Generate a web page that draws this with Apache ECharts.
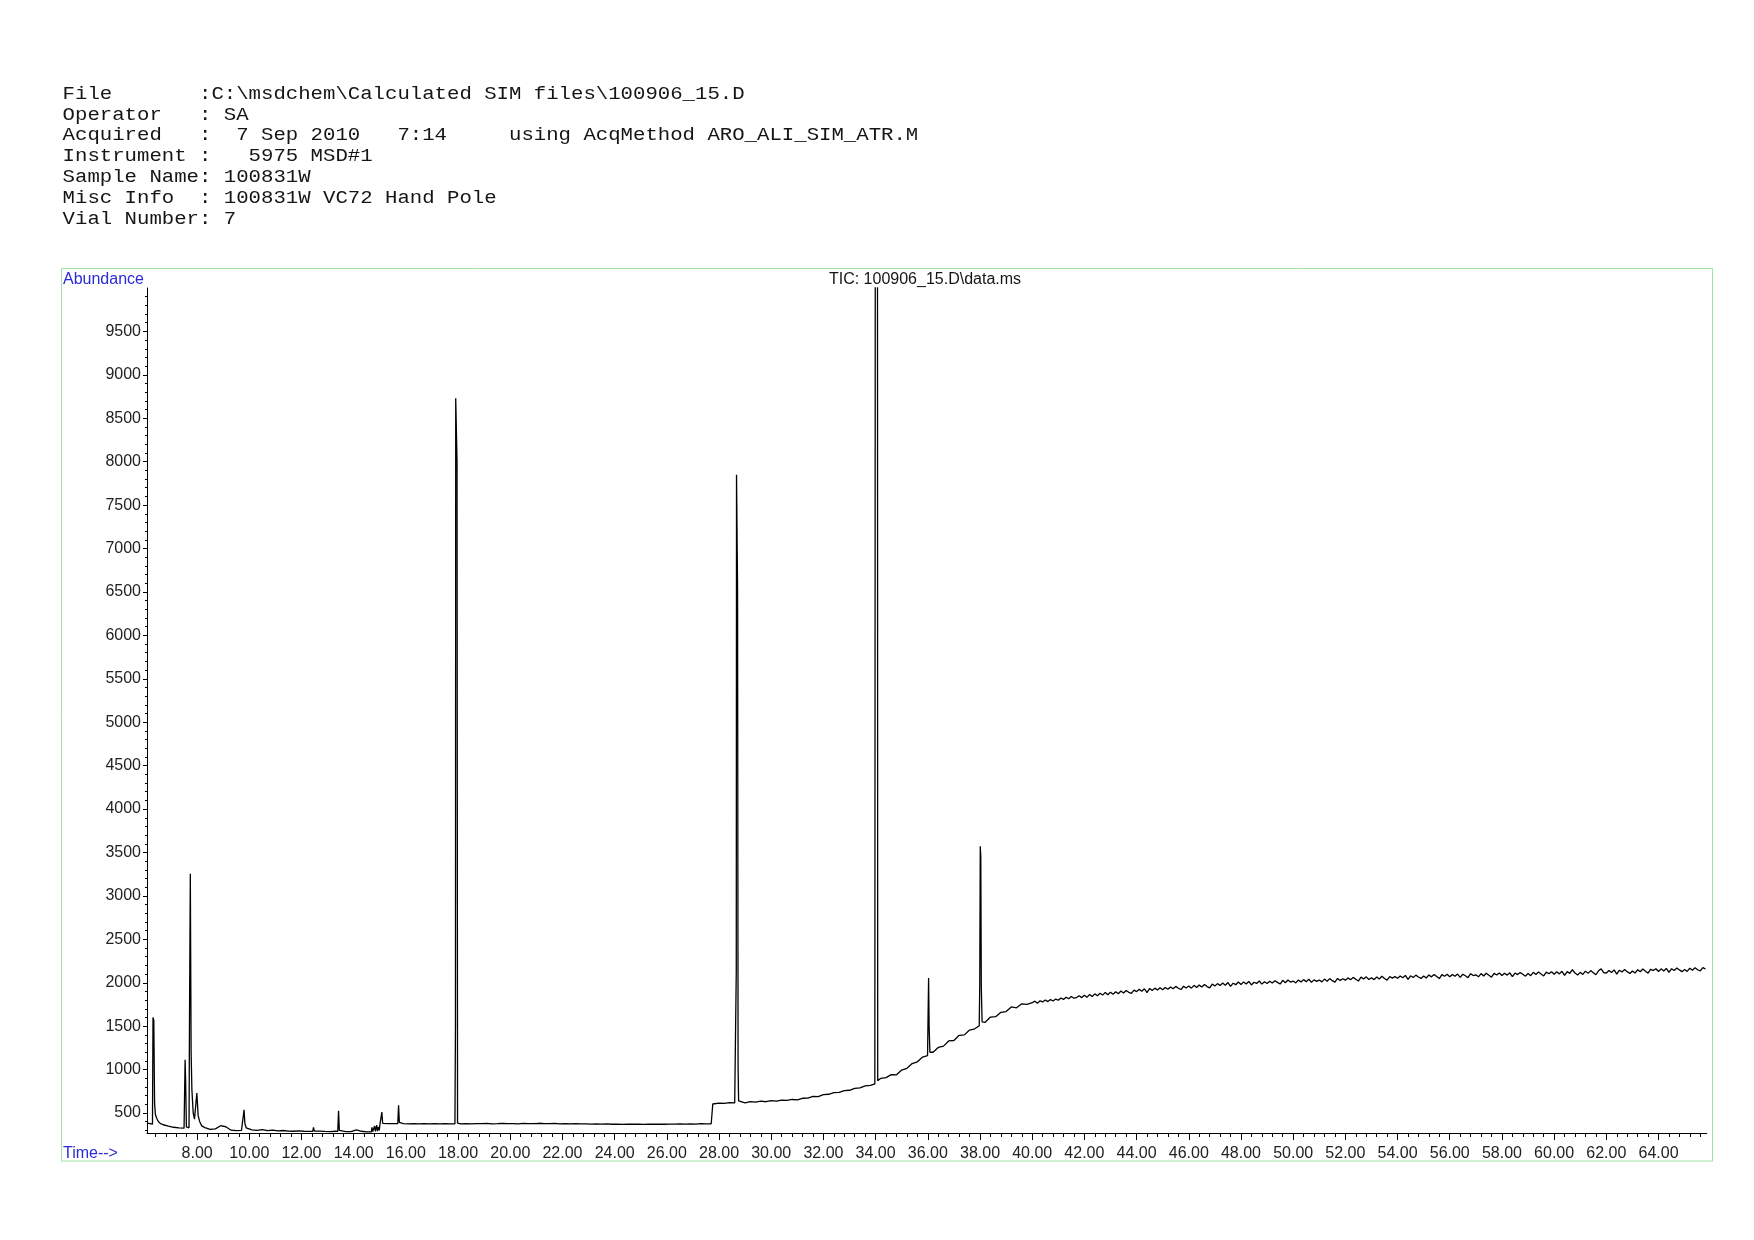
<!DOCTYPE html>
<html>
<head>
<meta charset="utf-8">
<script src="https://cdn.jsdelivr.net/npm/echarts@6/dist/echarts.min.js"></script>
<style>
html,body{margin:0;padding:0;background:#fff;}
#chart{width:1754px;height:1240px;}
</style>
</head>
<body>
<div id="chart"></div>
<script>
// ---------- header text ----------
const headerLines = [
  'File       :C:\\msdchem\\Calculated SIM files\\100906_15.D',
  'Operator   : SA',
  'Acquired   :  7 Sep 2010   7:14     using AcqMethod ARO_ALI_SIM_ATR.M',
  'Instrument :   5975 MSD#1',
  'Sample Name: 100831W',
  'Misc Info  : 100831W VC72 Hand Pole',
  'Vial Number: 7'
];
const plotTitle = 'TIC: 100906_15.D\\data.ms';
const yAxisName = 'Abundance';
const xAxisName = 'Time-->';

// ---------- axis ranges / ticks ----------
const xMin = 6.08, xMax = 65.85;
const yMin = 270, yMax = 10000;
const xMajorTicks = [8,10,12,14,16,18,20,22,24,26,28,30,32,34,36,38,40,42,44,46,48,50,52,54,56,58,60,62,64];
const yMajorTicks = [500,1000,1500,2000,2500,3000,3500,4000,4500,5000,5500,6000,6500,7000,7500,8000,8500,9000,9500];
const xMinorTicks = [];
for (let i = 0; i < 149; i++) xMinorTicks.push(Math.round((6.4 + i * 0.4) * 100) / 100);
const yMinorTicks = [];
for (let v = 300; v <= 9900; v += 100) yMinorTicks.push(v);

// ---------- baseline (regularly sampled) ----------
const seg1Start = 6.1, seg1Step = 0.2;
const seg1Values = [
  385,370,400,365,348,336,329,326,340,420,
  400,332,312,318,354,342,302,298,300,315,
  306,300,310,298,303,294,299,292,290,294,
  290,288,296,292,288,286,290,288,286,285,
  305,290,283,300,300,380,377,379,377,378,
  376,379,375,378,376,379,375,378,376,376,
  375,378,376,379,377,380,376,378,381,377,
  379,376,381,378,377,382,378,377,380,376,
  378,375,377,374,376,373,375,372,374,371,
  373,370,372,371,372,370,372,371,373,371,
  373,372,374,372,374,373,377,375,376
];
const seg2Start = 27.8, seg2Step = 0.2;
const seg2Values = [
  606,614,610,620,616,628,618,632,625,636,
  630,642,636,648,645,656,652,670,672,692,
  690,712,716,734,738,758,762,784,790,812,
  818,850,900,908,942,940,995,1015,1070,1090,
  1145,1180,1200,1255,1270,1330,1335,1395,1400,1455,
  1470,1510,1545,1605,1610,1660,1668,1722,1712,1758,
  1750
];
const seg3Start = 40.0, seg3Step = 0.1;
const seg3Values = [
  1770,1788,1765,1792,1779,1801,1783,1806,1790,1812,
  1800,1825,1808,1834,1815,1842,1822,1830,1851,1829,
  1855,1832,1866,1841,1872,1850,1880,1858,1889,1862,
  1892,1868,1897,1874,1905,1883,1911,1890,1878,1915,
  1898,1924,1902,1930,1887,1935,1910,1938,1916,1942,
  1920,1945,1926,1952,1931,1958,1937,1922,1960,1940,
  1962,1938,1970,1946,1975,1951,1980,1956,1941,1984,
  1962,1990,1968,1997,1972,2002,1958,1995,1978,2008,
  1981,2010,1986,2015,1975,2006,1992,2020,1984,2012,
  1992,2018,1998,2024,2004,1985,2028,2000,2031,2008,
  2020,1998,2032,2009,2036,2012,2040,2005,2033,2016,
  2031,2010,2042,2018,2048,2024,2008,2050,2027,2046,
  2030,2056,2034,2062,2040,2020,2065,2043,2068,2037,
  2058,2036,2066,2044,2075,2050,2030,2072,2053,2070,
  2052,2078,2057,2085,2040,2080,2061,2088,2066,2050,
  2078,2055,2090,2068,2095,2072,2048,2094,2075,2098,
  2070,2096,2074,2100,2062,2098,2080,2058,2104,2083,
  2092,2068,2106,2078,2110,2086,2064,2108,2089,2112,
  2084,2110,2088,2115,2070,2112,2094,2118,2098,2076,
  2106,2082,2120,2096,2124,2100,2078,2122,2104,2128,
  2098,2126,2102,2132,2085,2128,2108,2150,2112,2090,
  2120,2096,2134,2108,2140,2115,2092,2138,2160,2118,
  2112,2142,2118,2148,2100,2145,2124,2152,2128,2106,
  2136,2112,2150,2126,2158,2132,2110,2156,2140,2162,
  2130,2160,2135,2166,2120,2162,2142,2170,2148,2128,
  2154,2130,2168,2145,2172,2150,2136,2175,2158
];

// ---------- peaks / steps: [time, abundance] ----------
const peak633 = [[6.29,372],[6.31,1600],[6.34,1570],[6.37,620],[6.40,485],[6.45,440],[6.52,400],[6.60,378]];
const peak754 = [[7.52,326],[7.54,1114],[7.56,883],[7.59,340],[7.63,330]];
const peak774 = [[7.69,330],[7.71,1670],[7.74,3256],[7.77,1209],[7.80,768],[7.85,503],[7.90,430],[7.94,410]];
const peak799 = [[7.97,410],[7.99,730],[8.01,710],[8.04,470],[8.10,400],[8.18,352],[8.24,338]];
const peak980 = [[9.77,298],[9.80,538],[9.83,380],[9.88,330],[9.95,310]];
const peak1246 = [[12.43,290],[12.46,334],[12.49,292]];
const peak1342 = [[13.39,289],[13.42,527],[13.45,300],[13.49,290]];
const noise1480 = [[14.68,284],[14.70,335],[14.73,286],[14.80,350],[14.83,288],[14.88,362],[14.91,292],[14.95,340],[14.98,300],[15.01,378]];
const peak1508 = [[15.04,378],[15.08,511],[15.11,382],[15.15,378]];
const peak1572 = [[15.69,377],[15.72,588],[15.75,392],[15.79,380]];
const peak1792 = [[17.88,376],[17.90,1500],[17.91,8730],[17.96,8000],[17.98,385],[18.02,378]];
const step2775 = [[27.74,376],[27.76,604]];
const peak2869 = [[28.64,622],[28.66,2120],[28.67,7850],[28.71,6540],[28.73,1030],[28.75,640],[28.78,625]];
const peak3403 = [[33.97,835],[33.99,12500],[34.07,12500],[34.08,873]];
const peak3603 = [[35.99,1160],[36.01,1612],[36.03,2055],[36.05,1497],[36.08,1200]];
const peak3801 = [[37.97,1505],[37.99,1960],[38.01,3572],[38.03,3450],[38.05,1950],[38.08,1550]];
const peakShapes = [peak633,peak754,peak774,peak799,peak980,peak1246,peak1342,noise1480,peak1508,peak1572,peak1792,step2775,peak2869,peak3403,peak3603,peak3801];

// ---------- build series data ----------
function segPoints(start, step, vals) {
  return vals.map((v, i) => [Math.round((start + i * step) * 1000) / 1000, v]);
}
const windows = peakShapes.map(p => [p[0][0] - 0.0015, p[p.length - 1][0] + 0.0015]);
let basePts = [].concat(
  segPoints(seg1Start, seg1Step, seg1Values),
  segPoints(seg2Start, seg2Step, seg2Values),
  segPoints(seg3Start, seg3Step, seg3Values)
).filter(([t]) => !windows.some(([a, b]) => t >= a && t <= b));
const ticData = basePts.concat(...peakShapes).sort((a, b) => a[0] - b[0]);

// ---------- chart ----------
const chart = echarts.init(document.getElementById('chart'), null, {renderer: 'canvas'});
const labelFont = '"Liberation Sans", Arial, sans-serif';
const blue = '#2a2ad6';

const headerGraphics = headerLines.map((line, i) => ({
  type: 'text',
  x: 62.6,
  y: 94 + i * 20.85,
  scaleX: 1.148,
  style: {
    text: line,
    font: '18px "Liberation Mono", monospace',
    fill: '#151515',
    textAlign: 'left',
    textVerticalAlign: 'middle'
  }
}));

chart.setOption({
  animation: false,
  backgroundColor: '#ffffff',
  grid: {left: 147, right: 47.2, top: 288, bottom: 107, containLabel: false},
  xAxis: [
    {
      type: 'value', min: xMin, max: xMax, position: 'bottom',
      axisLine: {show: true, onZero: false, lineStyle: {color: '#000', width: 1}},
      axisTick: {show: true, customValues: xMajorTicks, length: 7, lineStyle: {color: '#000', width: 1}},
      axisLabel: {customValues: xMajorTicks, formatter: v => v.toFixed(2), color: '#222', fontSize: 16, fontFamily: labelFont, margin: 13},
      splitLine: {show: false}
    },
    {
      type: 'value', min: xMin, max: xMax, position: 'bottom',
      axisLine: {show: false, onZero: false},
      axisTick: {show: true, customValues: xMinorTicks, length: 4, lineStyle: {color: '#000', width: 1}},
      axisLabel: {show: false},
      splitLine: {show: false}
    }
  ],
  yAxis: [
    {
      type: 'value', min: yMin, max: yMax, position: 'left',
      axisLine: {show: true, onZero: false, lineStyle: {color: '#000', width: 1}},
      axisTick: {show: true, customValues: yMajorTicks, length: 4, lineStyle: {color: '#000', width: 1}},
      axisLabel: {customValues: yMajorTicks, formatter: v => String(v), color: '#222', fontSize: 16, fontFamily: labelFont, margin: 6},
      splitLine: {show: false}
    },
    {
      type: 'value', min: yMin, max: yMax, position: 'left',
      axisLine: {show: false, onZero: false},
      axisTick: {show: true, customValues: yMinorTicks, length: 2, lineStyle: {color: '#000', width: 1}},
      axisLabel: {show: false},
      splitLine: {show: false}
    }
  ],
  series: [{
    type: 'line',
    xAxisIndex: 0,
    yAxisIndex: 0,
    data: ticData,
    showSymbol: false,
    symbol: 'none',
    clip: true,
    lineStyle: {color: '#000', width: 1.3},
    emphasis: {disabled: true}
  }],
  graphic: [
    {
      type: 'rect', z: -1,
      shape: {x: 61.5, y: 268.5, width: 1651, height: 892.5},
      style: {fill: 'none', stroke: '#9fe49f', lineWidth: 1}
    },
    {
      type: 'text', x: 63, y: 280,
      style: {text: yAxisName, font: '16px ' + labelFont, fill: blue, textAlign: 'left', textVerticalAlign: 'middle'}
    },
    {
      type: 'text', x: 63, y: 1154,
      style: {text: xAxisName, font: '16px ' + labelFont, fill: blue, textAlign: 'left', textVerticalAlign: 'middle'}
    },
    {
      type: 'text', x: 925, y: 280,
      style: {text: plotTitle, font: '16px ' + labelFont, fill: '#151515', textAlign: 'center', textVerticalAlign: 'middle'}
    }
  ].concat(headerGraphics)
});
</script>
</body>
</html>
